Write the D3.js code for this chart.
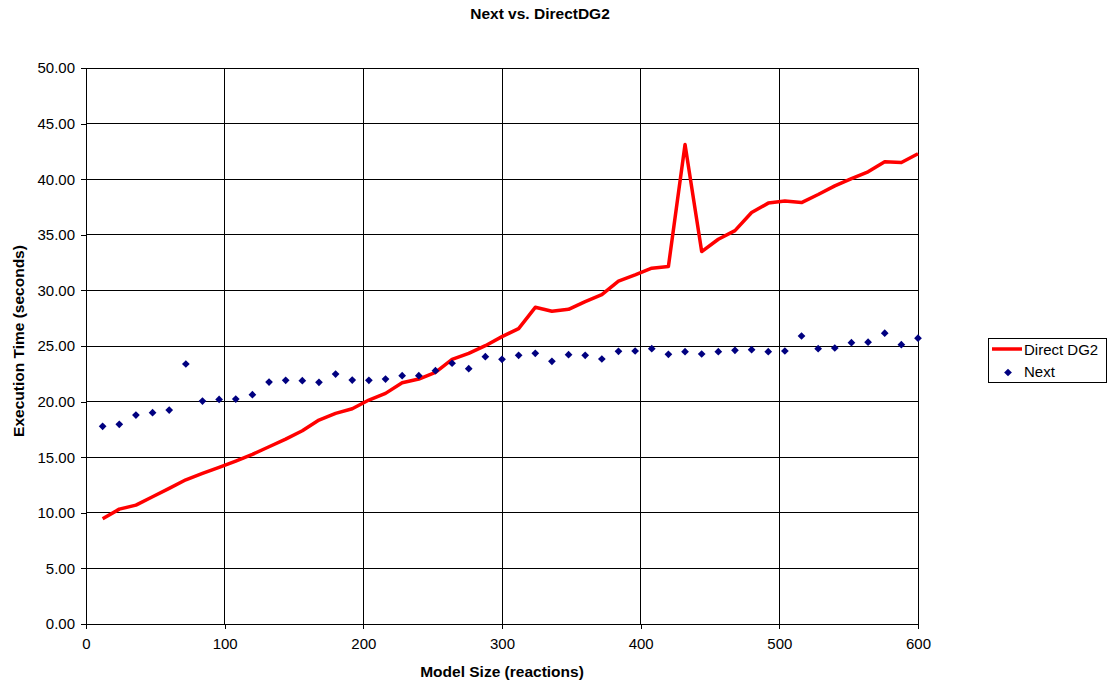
<!DOCTYPE html>
<html>
<head>
<meta charset="utf-8">
<script src="https://cdn.jsdelivr.net/npm/d3@7/dist/d3.min.js"></script>
<style>
html,body{margin:0;padding:0;background:#fff;}
svg{display:block;font-family:"Liberation Sans",Arial,sans-serif;}
</style>
</head>
<body>
<svg id="chart" width="1113" height="687"></svg>
<script>
const modelSizes = [12,24,36,48,60,72,84,96,108,120,132,144,156,168,180,192,204,216,228,240,252,264,276,288,300,312,324,336,348,360,372,384,396,408,420,432,444,456,468,480,492,504,516,528,540,552,564,576,588,600];
const directDG2 = [9.46,10.33,10.69,11.44,12.2,12.97,13.54,14.08,14.65,15.25,15.94,16.63,17.38,18.34,18.94,19.36,20.14,20.74,21.7,22.03,22.63,23.8,24.34,25.03,25.84,26.56,28.48,28.12,28.3,28.99,29.62,30.83,31.39,32.0,32.14,43.12,33.49,34.6,35.38,37.0,37.85,38.03,37.9,38.62,39.4,40.06,40.66,41.56,41.5,42.29];
const nextTimes = [17.78,17.96,18.79,19.0,19.24,23.38,20.05,20.2,20.23,20.62,21.76,21.91,21.88,21.73,22.48,21.94,21.91,22.03,22.33,22.33,22.78,23.45,22.96,24.04,23.8,24.16,24.34,23.62,24.22,24.16,23.83,24.52,24.55,24.76,24.25,24.49,24.28,24.49,24.61,24.67,24.49,24.55,25.9,24.76,24.82,25.3,25.34,26.15,25.12,25.7];
const xTicks = [0,100,200,300,400,500,600];
const yTicks = [0,5,10,15,20,25,30,35,40,45,50];
const seriesNames = ["Direct DG2","Next"];
const chartTitle = "Next vs. DirectDG2";
const xTitle = "Model Size (reactions)";
const yTitle = "Execution Time (seconds)";

(function(){
const svg = d3.select("#chart");
const pL = 86, pR = 918, pT = 68, pB = 624;
const x = d3.scaleLinear().domain([0,600]).range([pL,pR]);
const y = d3.scaleLinear().domain([0,50]).range([pB,pT]);

// gridlines
const grid = svg.append("g").attr("shape-rendering","crispEdges");
grid.selectAll("line.h").data(yTicks).join("line").attr("class","h")
  .attr("x1",pL).attr("x2",pR).attr("y1",d=>y(d)).attr("y2",d=>y(d))
  .attr("stroke","#000").attr("stroke-width",1);
grid.selectAll("line.v").data(xTicks.filter(d=>d>0)).join("line").attr("class","v")
  .attr("y1",pT).attr("y2",pB).attr("x1",d=>x(d)).attr("x2",d=>x(d))
  .attr("stroke","#000").attr("stroke-width",1);

// axes
const yAxis = d3.axisLeft(y).tickValues(yTicks).tickFormat(d3.format(".2f")).tickSize(5).tickPadding(6).tickSizeOuter(0);
const gy = svg.append("g").attr("transform",`translate(${pL},0)`).attr("shape-rendering","crispEdges").call(yAxis);
const xAxis = d3.axisBottom(x).tickValues(xTicks).tickFormat(d3.format("d")).tickSize(5).tickPadding(9).tickSizeOuter(0);
const gx = svg.append("g").attr("transform",`translate(0,${pB})`).attr("shape-rendering","crispEdges").call(xAxis);
[gx,gy].forEach(g=>{
  g.select(".domain").attr("stroke","#000").attr("stroke-width",1.5);
  g.selectAll(".tick line").attr("stroke","#000");
  g.selectAll(".tick text").attr("fill","#000").style("font-size","15px").style("font-family","'Liberation Sans',Arial,sans-serif");
});

// line
const line = d3.line().x((d,i)=>x(modelSizes[i])).y(d=>y(d));
svg.append("path").datum(directDG2).attr("d",line)
  .attr("fill","none").attr("stroke","#ff0000").attr("stroke-width",3.5).attr("stroke-linejoin","round");

// points
const diamond = d3.symbol().type(d3.symbolDiamond2).size(38);
svg.append("g").selectAll("path").data(nextTimes).join("path")
  .attr("d",diamond)
  .attr("transform",(d,i)=>`translate(${x(modelSizes[i])},${y(d)})`)
  .attr("fill","#000080");

// titles
svg.append("text").attr("x",540).attr("y",19).attr("text-anchor","middle")
  .style("font-size","15.5px").style("font-weight","bold").text(chartTitle);
svg.append("text").attr("x",502).attr("y",677).attr("text-anchor","middle")
  .style("font-size","15.5px").style("font-weight","bold").text(xTitle);
svg.append("text").attr("transform","translate(24,341) rotate(-90)").attr("text-anchor","middle")
  .style("font-size","15.5px").style("font-weight","bold").text(yTitle);

// legend
const lg = svg.append("g");
lg.append("rect").attr("x",988.5).attr("y",338.5).attr("width",118).attr("height",44)
  .attr("fill","#fff").attr("stroke","#000").attr("stroke-width",1);
lg.append("line").attr("x1",992).attr("x2",1022).attr("y1",349).attr("y2",349)
  .attr("stroke","#ff0000").attr("stroke-width",3.5);
lg.append("text").attr("x",1024).attr("y",355).style("font-size","15px").text(seriesNames[0]);
lg.append("path").attr("d",diamond).attr("transform","translate(1008,372.5)").attr("fill","#000080");
lg.append("text").attr("x",1024).attr("y",377).style("font-size","15px").text(seriesNames[1]);
})();
</script>
</body>
</html>
